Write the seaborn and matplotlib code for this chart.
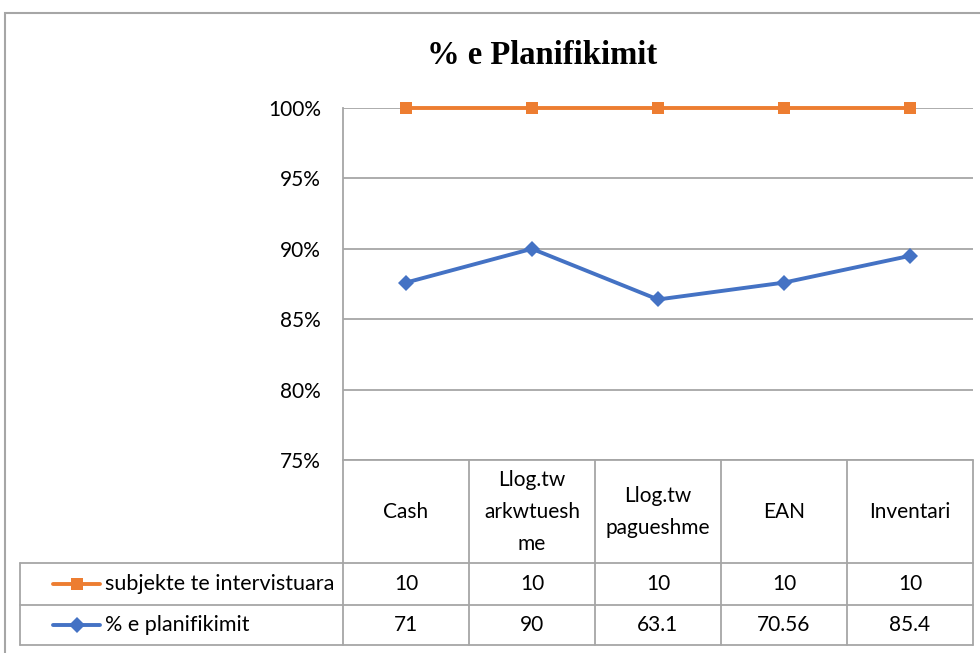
import matplotlib
matplotlib.use("Agg")
import matplotlib.pyplot as plt
import matplotlib.ticker as ticker
from matplotlib.patches import Rectangle
import pandas as pd
import seaborn as sns

categories = ["Cash", "Llog.tw\narkwtuesh\nme", "Llog.tw\npagueshme", "EAN", "Inventari"]
series_names = ["subjekte te intervistuara", "% e planifikimit"]
subjekte_table = ["10", "10", "10", "10", "10"]
planif_table = ["71", "90", "63.1", "70.56", "85.4"]
# values as they sit on the chart (percent)
subjekte_plot = [100, 100, 100, 100, 100]
planif_plot = [87.6, 90.0, 86.4, 87.6, 89.5]
yticks = [75, 80, 85, 90, 95, 100]

W, H = 980, 653
ORANGE = "#ED7D31"
BLUE = "#4472C4"
GRID = "#a6a6a6"


def px_box(x0, y0, x1, y1):
    return [x0 / W, 1 - y1 / H, (x1 - x0) / W, (y1 - y0) / H]


def main():
    sns.set_style("white")
    plt.rcParams["font.family"] = ["Lato", "DejaVu Sans"]
    plt.rcParams["text.color"] = "black"
    plt.rcParams["ytick.labelcolor"] = "black"
    fig = plt.figure(figsize=(W / 100, H / 100), dpi=100)

    # outer chart border (cut off at right and bottom)
    fig.patches.append(Rectangle((5 / W, -0.1), 1.2, 1.1 - 13 / H,
                                 transform=fig.transFigure, fill=False,
                                 ec=GRID, lw=1.5))

    left, top, right, bottom = 343, 108, 973, 460
    ax = fig.add_axes(px_box(left, top, right, bottom))

    n = len(categories)
    df = pd.DataFrame({
        "pos": list(range(n)) * 2,
        "val": subjekte_plot + planif_plot,
        "series": [series_names[0]] * n + [series_names[1]] * n,
    })
    sns.lineplot(data=df, x="pos", y="val", hue="series", style="series",
                 palette={series_names[0]: ORANGE, series_names[1]: BLUE},
                 markers={series_names[0]: "s", series_names[1]: "D"},
                 dashes=False, linewidth=2.8, markersize=8,
                 markeredgewidth=0, legend=False, ax=ax, zorder=5)
    for line in ax.lines:
        line.set_clip_on(False)

    ax.set_xlim(-0.5, n - 0.5)
    ax.set_ylim(75, 100)
    ax.yaxis.set_major_locator(ticker.FixedLocator(yticks))
    ax.yaxis.set_major_formatter(ticker.FuncFormatter(lambda v, p: f"{v:.0f}%"))
    ax.set_xticks([])
    ax.set_xlabel("")
    ax.set_ylabel("")
    ax.tick_params(axis="y", length=0, pad=16, labelsize=15)
    ax.grid(axis="y", color=GRID, lw=1.3)
    ax.grid(axis="x", visible=False)
    for side in ["top", "right", "bottom"]:
        ax.spines[side].set_visible(False)
    ax.spines["left"].set_color(GRID)
    ax.spines["left"].set_linewidth(1.3)

    # data table under the plot
    tr = ax.get_xaxis_transform()
    ppx = n / (right - left)          # data units per pixel in x
    ppy = 1 / (bottom - top)          # axes units per pixel in y
    y_head = -(563 - bottom) * ppy
    y_row = -(605 - bottom) * ppy
    y_end = -(645 - bottom) * ppy
    x_leg = -0.5 - (left - 20) * ppx
    lkw = dict(color=GRID, lw=1.3, transform=tr, clip_on=False)

    ax.plot([-0.5, n - 0.5], [0, 0], **lkw)
    for yy in (y_head, y_row, y_end):
        ax.plot([x_leg, n - 0.5], [yy, yy], **lkw)
    for i in range(n + 1):
        ax.plot([i - 0.5, i - 0.5], [0, y_end], **lkw)
    ax.plot([x_leg, x_leg], [y_head, y_end], **lkw)

    for i, cat in enumerate(categories):
        ax.text(i, y_head / 2, cat, transform=tr, ha="center", va="center",
                fontsize=15, linespacing=1.75)
    rows = [(series_names[0], subjekte_table, ORANGE, "s"),
            (series_names[1], planif_table, BLUE, "D")]
    for (name, vals, col, mk), (y0, y1) in zip(rows, [(y_head, y_row), (y_row, y_end)]):
        yc = (y0 + y1) / 2
        for i, v in enumerate(vals):
            ax.text(i, yc, v, transform=tr, ha="center", va="center", fontsize=15)
        kx0 = x_leg + 33 * ppx
        kx1 = x_leg + 80 * ppx
        ax.plot([kx0, kx1], [yc, yc], color=col, lw=2.8, transform=tr, clip_on=False)
        ax.plot([(kx0 + kx1) / 2], [yc], marker=mk, color=col, ms=9 if mk == "s" else 8,
                mew=0, transform=tr, clip_on=False)
        ax.text(x_leg + 85 * ppx, yc, name, transform=tr, ha="left", va="center",
                fontsize=15.5)

    fig.text(542 / W, 1 - 55 / H, "% e Planifikimit", ha="center", va="center",
             fontsize=23.5, fontweight="bold", family=["Liberation Serif", "DejaVu Serif"])

    fig.savefig("out.png", dpi=100, facecolor="white")


if __name__ == "__main__":
    main()
